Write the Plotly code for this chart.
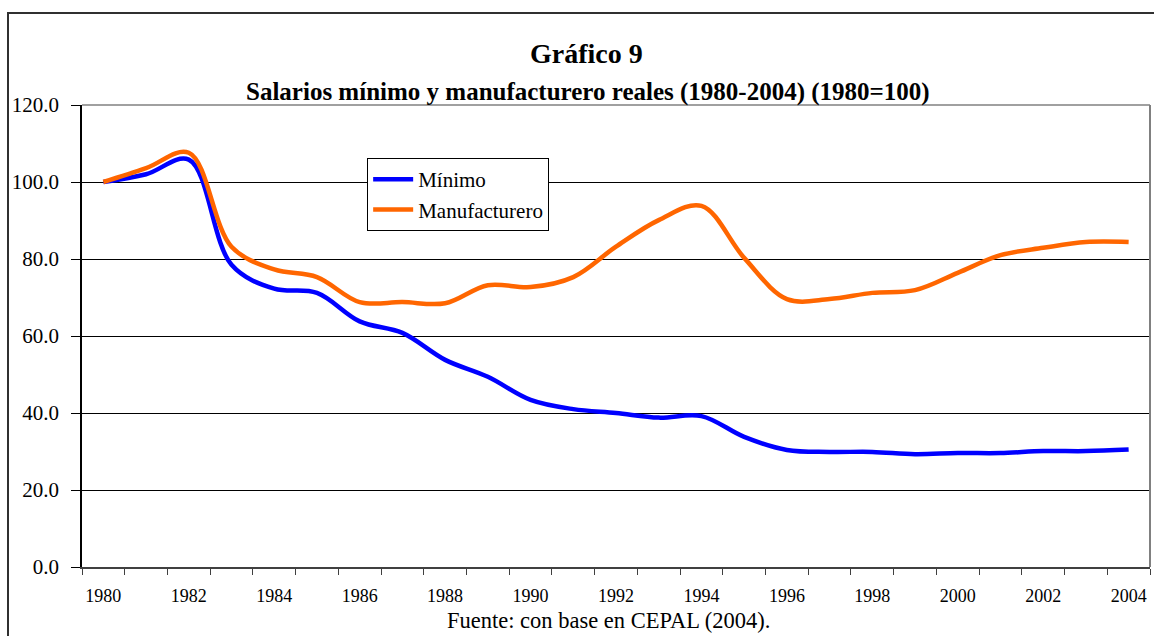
import plotly.graph_objects as go

years = list(range(1980, 2005))
minimo = [100.0, 102.0, 105.8, 78.5, 72.3, 71.2, 63.8, 60.8, 53.8, 49.4, 43.4,
          41.0, 40.0, 38.8, 39.2, 33.8, 30.4, 29.9, 29.9, 29.3, 29.6, 29.6, 30.1, 30.1, 30.5]
manufacturero = [100.0, 103.6, 107.6, 83.2, 77.3, 75.3, 68.8, 68.8, 68.5, 73.2, 72.7,
                 75.3, 83.2, 90.1, 93.8, 80.3, 69.6, 69.6, 71.2, 71.9, 76.4, 81.0, 82.9, 84.4, 84.4]
x_labels = [str(y) for y in range(1980, 2005, 2)]

FONT = "Liberation Serif"

fig = go.Figure()
fig.add_trace(go.Scatter(x=years, y=minimo, name="Mínimo", mode="lines",
                         line=dict(color="#0000FF", width=4.5, shape="spline", smoothing=1.0)))
fig.add_trace(go.Scatter(x=years, y=manufacturero, name="Manufacturero", mode="lines",
                         line=dict(color="#FF6600", width=4.5, shape="spline", smoothing=1.0)))

L, R, T, B = 82, 4, 105, 69
fig.update_layout(
    width=1154, height=636,
    margin=dict(l=L, r=R, t=T, b=B, autoexpand=False),
    paper_bgcolor="white", plot_bgcolor="white",
    font=dict(family=FONT, color="black"),
    showlegend=True,
    legend=dict(x=0.267, y=0.885, xanchor="left", yanchor="top",
                bgcolor="white", bordercolor="#000000", borderwidth=1,
                font=dict(size=21, family=FONT), itemwidth=40,
                tracegroupgap=0),
)
fig.update_xaxes(range=[1979.5, 2004.5], tickmode="array",
                 tickvals=[int(v) for v in x_labels], ticktext=x_labels,
                 ticks="", showgrid=False, zeroline=False,
                 showline=True, linecolor="#404040", linewidth=2,
                 tickfont=dict(size=18, family=FONT), ticklabelstandoff=11,
                 minor=dict(tick0=1979.5, dtick=1, ticks="outside", ticklen=6,
                            tickcolor="#404040", tickwidth=1, showgrid=False))
fig.update_yaxes(range=[0, 120], tickmode="linear", tick0=0, dtick=20,
                 tickformat=".1f", ticks="outside", ticklen=9, tickcolor="black",
                 showgrid=True, gridcolor="black", gridwidth=1, zeroline=False,
                 showline=True, linecolor="black", linewidth=1.5,
                 tickfont=dict(size=21, family=FONT), ticklabelstandoff=8)

# plot area top/right border (gray)
fig.add_shape(type="line", xref="paper", yref="paper", x0=0, x1=1, y0=1, y1=1,
              line=dict(color="#808080", width=1.5))
fig.add_shape(type="line", xref="paper", yref="paper", x0=1, x1=1, y0=0, y1=1,
              line=dict(color="#808080", width=2))
# outer chart border
pw, ph = 1154 - L - R, 636 - T - B
fig.add_shape(type="rect", xref="paper", yref="paper",
              x0=(8 - L) / pw, x1=(1170 - L) / pw,
              y0=(567 - 660) / ph, y1=(567 - 13) / ph,
              line=dict(color="#303030", width=2), layer="below")

def py(ypix):
    return (567 - ypix) / ph

def px(xpix):
    return (xpix - L) / pw

fig.add_annotation(text="<b>Gráfico 9</b>", xref="paper", yref="paper",
                   x=px(586), y=py(53), showarrow=False, xanchor="center", yanchor="middle",
                   font=dict(size=28, family=FONT))
fig.add_annotation(text="<b>Salarios mínimo y manufacturero reales (1980-2004) (1980=100)</b>",
                   xref="paper", yref="paper", x=px(588), y=py(92), showarrow=False,
                   xanchor="center", yanchor="middle", font=dict(size=25, family=FONT))
fig.add_annotation(text="Fuente: con base en CEPAL (2004).", xref="paper", yref="paper",
                   x=px(608), y=py(620), showarrow=False, xanchor="center", yanchor="middle",
                   font=dict(size=22.5, family=FONT))

fig.write_html("out.html", config={"displayModeBar": False},
               post_script="document.body.style.margin='0';document.body.style.overflow='hidden';")
